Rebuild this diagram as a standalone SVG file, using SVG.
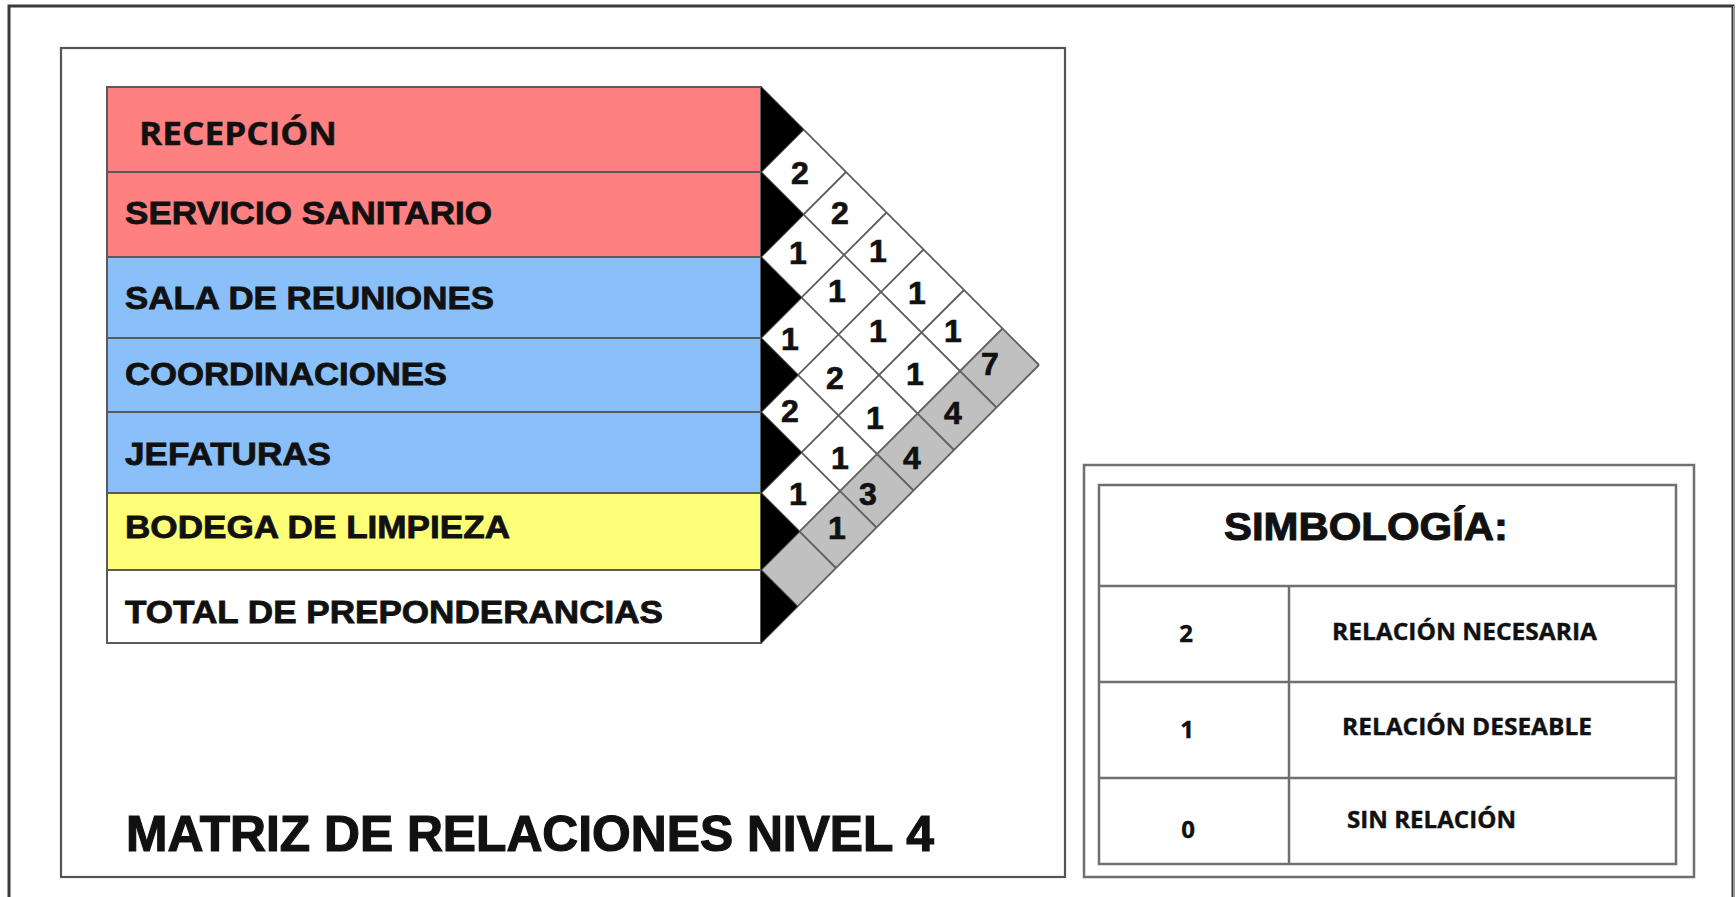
<svg xmlns="http://www.w3.org/2000/svg" width="1736" height="897" viewBox="0 0 1736 897">
<style>
.lbl{font-family:"Liberation Sans",Arial,sans-serif;font-weight:bold;font-size:32px;fill:#111;stroke:#111;stroke-width:0.8}
.cal{font-family:"Open Sans","Noto Sans",sans-serif;font-weight:bold;fill:#111;stroke:#111;stroke-width:0.4}
.num{font-family:"Liberation Sans",Arial,sans-serif;font-weight:bold;font-size:32px;fill:#111;stroke:#111;stroke-width:0.7;text-anchor:middle}
.row{stroke:#5a5a5a;stroke-width:2}
.grid{stroke:#606060;stroke-width:1.8;fill:none}
.tri{fill:#000}
.leg{fill:none;stroke:#707070;stroke-width:2.5}
</style>
<rect width="1736" height="897" fill="#fff"/>
<!-- outer border -->
<path d="M9 897 V6 H1733 V897" fill="none" stroke="#3a3a3a" stroke-width="3"/>
<path d="M1734 6 V897" fill="none" stroke="#9a9a9a" stroke-width="2"/>
<!-- inner frame -->
<rect x="61" y="48" width="1004" height="829" fill="none" stroke="#555" stroke-width="2.2"/>

<g id="rows">
<g id="recepcion"><rect class="row" x="107" y="87" width="654" height="85" fill="#FF8080"/>
<text class="cal" x="139" y="145" font-size="32" textLength="198" lengthAdjust="spacingAndGlyphs">RECEPCIÓN</text></g>
<g id="servicio-sanitario"><rect class="row" x="107" y="172" width="654" height="85" fill="#FF8080"/>
<text class="lbl" x="125" y="224" textLength="367" lengthAdjust="spacingAndGlyphs">SERVICIO SANITARIO</text></g>
<g id="sala-reuniones"><rect class="row" x="107" y="257" width="654" height="81" fill="#89C0FA"/>
<text class="lbl" x="125" y="309" textLength="369" lengthAdjust="spacingAndGlyphs">SALA DE REUNIONES</text></g>
<g id="coordinaciones"><rect class="row" x="107" y="338" width="654" height="74" fill="#89C0FA"/>
<text class="lbl" x="125" y="385" textLength="322" lengthAdjust="spacingAndGlyphs">COORDINACIONES</text></g>
<g id="jefaturas"><rect class="row" x="107" y="412" width="654" height="81" fill="#89C0FA"/>
<text class="lbl" x="125" y="465" textLength="206" lengthAdjust="spacingAndGlyphs">JEFATURAS</text></g>
<g id="bodega"><rect class="row" x="107" y="493" width="654" height="77" fill="#FFFF77"/>
<text class="lbl" x="125" y="538" textLength="385" lengthAdjust="spacingAndGlyphs">BODEGA DE LIMPIEZA</text></g>
<g id="total"><rect class="row" x="107" y="570" width="654" height="73" fill="#FFFFFF"/>
<text class="lbl" x="125" y="623" textLength="538" lengthAdjust="spacingAndGlyphs">TOTAL DE PREPONDERANCIAS</text></g>
</g>

<g id="matrix">
<polygon points="761,570 1002.5,328.5 1039,365 761,643" fill="#c0c0c0"/>
<g class="grid">
<path d="M761 87 L1039 365 M761 172 L996.5 407.5 M761 257 L954 450 M761 338 L913.5 490.5 M761 412 L876.5 527.5 M761 493 L836 568 M761 570 L797.5 606.5"/>
<path d="M761 172 L803.5 129.5 M761 257 L846 172 M761 338 L886.5 212.5 M761 412 L923.5 249.5 M761 493 L964 290 M761 570 L1002.5 328.5 M761 643 L1039 365"/>
</g>
<polygon class="tri" points="761,87 803.5,129.5 761,172"/>
<polygon class="tri" points="761,172 803.5,214.5 761,257"/>
<polygon class="tri" points="761,257 801.5,297.5 761,338"/>
<polygon class="tri" points="761,338 798,375 761,412"/>
<polygon class="tri" points="761,412 801.5,452.5 761,493"/>
<polygon class="tri" points="761,493 799.5,531.5 761,570"/>
<polygon class="tri" points="761,570 797.5,606.5 761,643"/>
<g id="values">
<text class="num" x="800" y="183.5">2</text>
<text class="num" x="798" y="263.5">1</text>
<text class="num" x="790" y="349.5">1</text>
<text class="num" x="790" y="421.5">2</text>
<text class="num" x="798" y="504.5">1</text>
<text class="num" x="840" y="223.5">2</text>
<text class="num" x="837" y="301.5">1</text>
<text class="num" x="835" y="388.5">2</text>
<text class="num" x="840" y="468.5">1</text>
<text class="num" x="837" y="538.5">1</text>
<text class="num" x="878" y="261.5">1</text>
<text class="num" x="878" y="341.5">1</text>
<text class="num" x="875" y="428.5">1</text>
<text class="num" x="868" y="504.5">3</text>
<text class="num" x="917" y="303.5">1</text>
<text class="num" x="915" y="384.5">1</text>
<text class="num" x="912" y="468.5">4</text>
<text class="num" x="953" y="341.5">1</text>
<text class="num" x="953" y="423.5">4</text>
<text class="num" x="990" y="374.5">7</text>
</g>
</g>

<g id="title">
<text class="lbl" x="126" y="851" style="font-size:50px;stroke-width:1.2" textLength="808" lengthAdjust="spacingAndGlyphs">MATRIZ DE RELACIONES NIVEL 4</text>
</g>

<g id="legend">
<rect class="leg" x="1084" y="465" width="610" height="412"/>
<rect class="leg" x="1099" y="485" width="577" height="379"/>
<path class="leg" d="M1099 586 H1676 M1099 682 H1676 M1099 778 H1676 M1289 586 V864"/>
<text class="lbl" x="1224" y="540" style="font-size:38px;stroke-width:1" textLength="284" lengthAdjust="spacingAndGlyphs">SIMBOLOGÍA:</text>
<text class="cal" x="1186" y="642" font-size="24" text-anchor="middle">2</text>
<text class="cal" x="1187" y="738" font-size="24" text-anchor="middle">1</text>
<text class="cal" x="1188" y="838" font-size="24" text-anchor="middle">0</text>
<text class="cal" x="1332" y="640" font-size="23" textLength="265" lengthAdjust="spacingAndGlyphs">RELACIÓN NECESARIA</text>
<text class="cal" x="1342" y="735" font-size="23" textLength="250" lengthAdjust="spacingAndGlyphs">RELACIÓN DESEABLE</text>
<text class="cal" x="1347" y="828" font-size="23" textLength="169" lengthAdjust="spacingAndGlyphs">SIN RELACIÓN</text>
</g>
</svg>
